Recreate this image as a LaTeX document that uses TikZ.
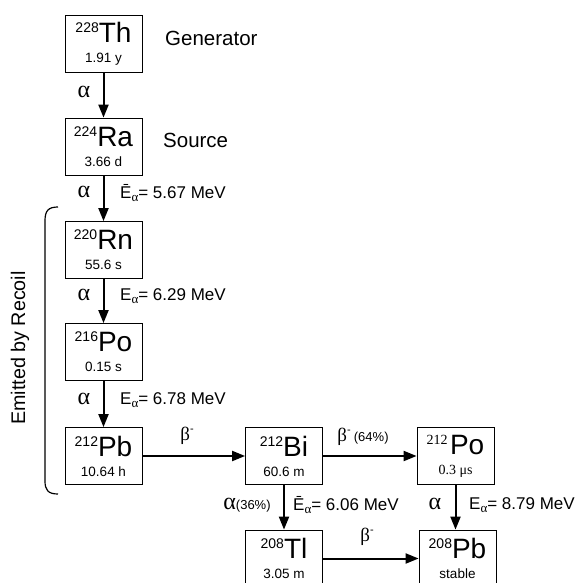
\documentclass[tikz,border=0pt]{standalone}
\usepackage{fontspec}
\setmainfont{Liberation Sans}
\newfontfamily\symfont{Liberation Serif}
\usetikzlibrary{arrows.meta,positioning}

\newcommand{\nuc}[3]{\raisebox{10pt}{\fontsize{14}{14}\selectfont#1}{\fontsize{28}{28}\selectfont#2}\\[8pt]{\fontsize{13.5}{13.5}\selectfont#3}}
\newcommand{\Ea}[1]{E\raisebox{-3pt}{\symfont\fontsize{13}{13}\selectfont α}= #1 MeV}
\newcommand{\Eb}[1]{Ē\raisebox{-3pt}{\symfont\fontsize{13}{13}\selectfont α}= #1 MeV}
\newcommand{\bminus}{{\symfont β}\raisebox{8pt}{\fontsize{11}{11}\selectfont -}}

\tikzset{
  nuclide/.style={draw, line width=0.8pt, minimum width=77pt, minimum height=57pt,
                  inner sep=0pt, align=center},
  decay/.style={line width=2pt, -{Triangle[length=13pt,width=10pt]}},
  tag/.style={font=\fontsize{20.5}{20.5}\selectfont, anchor=west, inner sep=0pt},
  elabel/.style={font=\fontsize{17}{17}\selectfont, anchor=west, inner sep=0pt},
  alabel/.style={font=\symfont\fontsize{24}{24}\selectfont, inner sep=0pt},
  blabel/.style={font=\fontsize{19}{19}\selectfont, inner sep=0pt},
}

\begin{document}
\begin{tikzpicture}[x=1pt, y=-1pt]
  \useasboundingbox (0,0) rectangle (579,583);

  % chain nodes
  \node[nuclide] (th) at (103.5,43.5) {\nuc{228}{Th}{1.91 y}};
  \node[nuclide] (ra) at (103.5,146.5) {\nuc{224}{Ra}{3.66 d}};
  \node[nuclide] (rn) at (103.5,250) {\nuc{220}{Rn}{55.6 s}};
  \node[nuclide] (po216) at (103.5,352) {\nuc{216}{Po}{0.15 s}};
  \node[nuclide] (pb212) at (103.5,456) {\nuc{212}{Pb}{10.64 h}};
  \node[nuclide] (bi) at (284,456) {\nuc{212}{Bi}{60.6 m}};
  \node[nuclide] (po212) at (455.5,456)
    {\raisebox{10pt}{\symfont\fontsize{14}{14}\selectfont 212\,}{\fontsize{28}{28}\selectfont Po}\\[8pt]{\symfont\fontsize{14}{14}\selectfont 0.3 μs}};
  \node[nuclide] (tl) at (284,558.5) {\nuc{208}{Tl}{3.05 m}};
  \node[nuclide] (pb208) at (457.5,558.5) {\nuc{208}{Pb}{stable}};

  \node[tag] (gen) at (165,38) {Generator};
  \node[tag] (src) at (163,140) {Source};

  % decays
  \draw[decay] (th) -- (ra);
  \draw[decay] (ra) -- (rn);
  \draw[decay] (rn) -- (po216);
  \draw[decay] (po216) -- (pb212);
  \draw[decay] (pb212) -- (bi);
  \draw[decay] (bi) -- (po212);
  \draw[decay] (bi) -- (tl);
  \draw[decay] (po212.south) -- (po212.south |- pb208.north);
  \draw[decay] (tl) -- (pb208);

  \node[alabel] (a1) at (84,92) {α};
  \node[alabel] (a2) at (84,192) {α};
  \node[elabel] (e2) at (120,193) {\Eb{5.67}};
  \node[alabel] (a3) at (84,295) {α};
  \node[elabel] (e3) at (120,296) {\Ea{6.29}};
  \node[alabel] (a4) at (84,399) {α};
  \node[elabel] (e4) at (120,400) {\Ea{6.78}};
  \node[blabel] (b1) at (187,436) {\bminus};
  \node[blabel] (b2) at (363,437)
    {\bminus\,{\fontsize{13}{13}\selectfont(64\%)}};
  \node[inner sep=0pt] (a5) at (247,505)
    {{\symfont\fontsize{24}{24}\selectfont α}{\fontsize{13}{13}\selectfont(36\%)}};
  \node[elabel] (e5) at (293,505) {\Eb{6.06}};
  \node[alabel] (a6) at (435,504) {α};
  \node[elabel] (e6) at (469,505) {\Ea{8.79}};
  \node[blabel] (b3) at (367,537) {\bminus};

  % recoil bracket
  \coordinate (btop) at (58,207);
  \coordinate (bbot) at (58,494);
  \draw[line width=1.2pt] (btop) .. controls (48,207) and (45,211) .. (45,221)
    -- (45,481) .. controls (45,490) and (48,494) .. (bbot);
  \node[rotate=90, font=\fontsize{19.7}{19.7}\selectfont, inner sep=0pt] (recoil) at (20,348)
    {Emitted by Recoil};
\end{tikzpicture}
\end{document}
